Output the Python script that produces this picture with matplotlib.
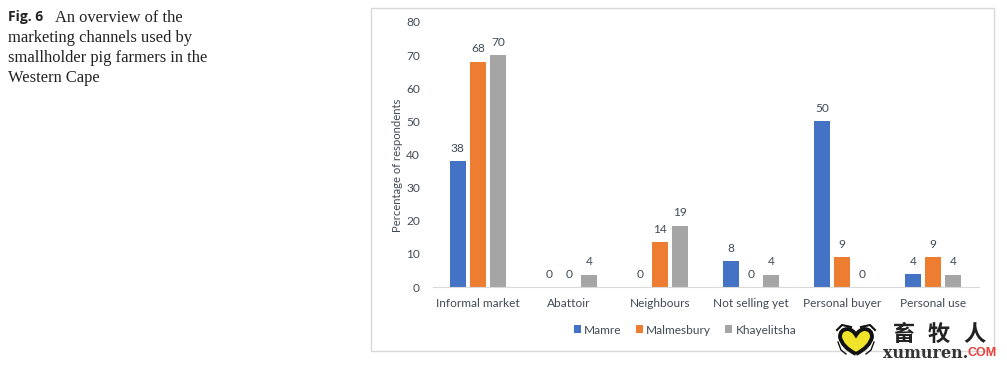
import matplotlib
matplotlib.use('Agg')
import matplotlib.pyplot as plt
from matplotlib.patches import Rectangle, PathPatch
from matplotlib.path import Path
import numpy as np

categories = ['Informal market', 'Abattoir', 'Neighbours', 'Not selling yet', 'Personal buyer', 'Personal use']
# bar heights as measured, printed labels are the rounded figures from the picture
mamre = [37.9, 0, 0, 7.7, 50, 3.8]
malmesbury = [68, 0, 13.6, 0, 9.1, 9.1]
khayelitsha = [70, 3.7, 18.5, 3.7, 0, 3.7]
mamre_labels = ['38', '0', '0', '8', '50', '4']
malmesbury_labels = ['68', '0', '14', '0', '9', '9']
khayelitsha_labels = ['70', '4', '19', '4', '0', '4']
series_names = ['Mamre', 'Malmesbury', 'Khayelitsha']
colors = ['#4472C4', '#ED7D31', '#A5A5A5']
yticks = [0, 10, 20, 30, 40, 50, 60, 70, 80]

W, H = 1007, 365
text_col = '#404a55'
plt.rcParams['font.family'] = ['Lato', 'DejaVu Sans']

fig = plt.figure(figsize=(W / 100, H / 100), dpi=100)

# whole-figure axes in pixels, for frame, caption and logo
bg = fig.add_axes([0, 0, 1, 1])
bg.set_xlim(0, W)
bg.set_ylim(H, 0)
bg.axis('off')
bg.add_patch(Rectangle((370.5, 7.5), 623, 343, fill=False, ec='#d9d9d9', lw=1))

# caption
bg.text(8, 17.5, 'Fig. 6', family='Open Sans', weight='bold', fontsize=10, color='#222222', va='center')
bg.text(55, 18, 'An overview of the', family='Liberation Serif', fontsize=11.9, color='#222222', va='center')
caption = ['marketing channels used by', 'smallholder pig farmers in the', 'Western Cape']
for i, line in enumerate(caption):
    bg.text(8, 38 + i * 20, line, family='Liberation Serif', fontsize=11.9, color='#222222', va='center')

# chart
left, right, top, bottom = 432.5, 978.5, 22, 287
ax = fig.add_axes([left / W, 1 - bottom / H, (right - left) / W, (bottom - top) / H])
x = np.arange(len(categories))
pitch = 0.222
all_vals = [mamre, malmesbury, khayelitsha]
all_labels = [mamre_labels, malmesbury_labels, khayelitsha_labels]
for k, vals in enumerate(all_vals):
    pos = x + (k - 1) * pitch
    ax.bar(pos, vals, width=0.178, color=colors[k], label=series_names[k])
    for p, v, lab in zip(pos, vals, all_labels[k]):
        ax.text(p, v + 2.2, lab, ha='center', va='bottom', fontsize=8.6, color=text_col)

ax.set_xlim(-0.5, 5.5)
ax.set_ylim(0, 80)
ax.set_yticks(yticks)
ax.set_xticks(x)
ax.set_xticklabels(categories)
ax.tick_params(length=0, labelsize=8.6, labelcolor=text_col)
ax.tick_params(axis='x', pad=8)
ax.tick_params(axis='y', pad=9)
for s in ['top', 'right', 'left']:
    ax.spines[s].set_visible(False)
ax.spines['bottom'].set_color('#d9d9d9')
ax.set_ylabel('Percentage of respondents', fontsize=8.1, color=text_col, labelpad=2, y=0.46)

# legend
handles, labels = ax.get_legend_handles_labels()
fig.legend(handles, labels, ncol=3, frameon=False, loc='center', bbox_to_anchor=(685 / W, 1 - 330 / H),
           fontsize=8.6, labelcolor=text_col, handlelength=0.6, handleheight=0.6, handletextpad=0.3, columnspacing=1.15)

# watermark logo
bg2 = fig.add_axes([0, 0, 1, 1], zorder=5)
bg2.set_xlim(0, W)
bg2.set_ylim(H, 0)
bg2.axis('off')
heart = Path([(856, 354), (842, 347), (840, 337), (840, 329), (848, 329), (853, 330), (856, 335),
              (859, 330), (864, 329), (872, 329), (872, 337), (870, 347), (856, 354)],
             [Path.MOVETO, Path.CURVE3, Path.CURVE3, Path.CURVE3, Path.CURVE3, Path.CURVE3, Path.CURVE3,
              Path.CURVE3, Path.CURVE3, Path.CURVE3, Path.CURVE3, Path.CURVE3, Path.CURVE3])
bg2.add_patch(PathPatch(heart, fc='#f0e32a', ec='#111111', lw=2.8))
bg2.plot([837, 842, 851], [330, 325, 327], color='#111111', lw=1.5)
bg2.plot([861, 870, 875], [327, 325, 330], color='#111111', lw=1.5)
bg2.plot([838, 841, 846], [342, 350, 354], color='#111111', lw=1)
bg2.plot([874, 871, 866], [342, 350, 354], color='#111111', lw=1)
for cx, ch in zip([904, 939, 974], '畜牧人'):
    bg2.text(cx, 334.5, ch, family=['Noto Sans CJK SC', 'DejaVu Sans'], weight='bold', fontsize=16,
             color='#222222', ha='center', va='center')
bg2.text(883, 353, 'xumuren.', family='DejaVu Serif', weight='bold', fontsize=11.5, color='#333333', ha='left', va='center')
bg2.text(968, 353.5, 'COM', family='Liberation Sans', weight='bold', fontsize=9, color='#e8403a', ha='left', va='center')

fig.savefig('out.png', dpi=100)
